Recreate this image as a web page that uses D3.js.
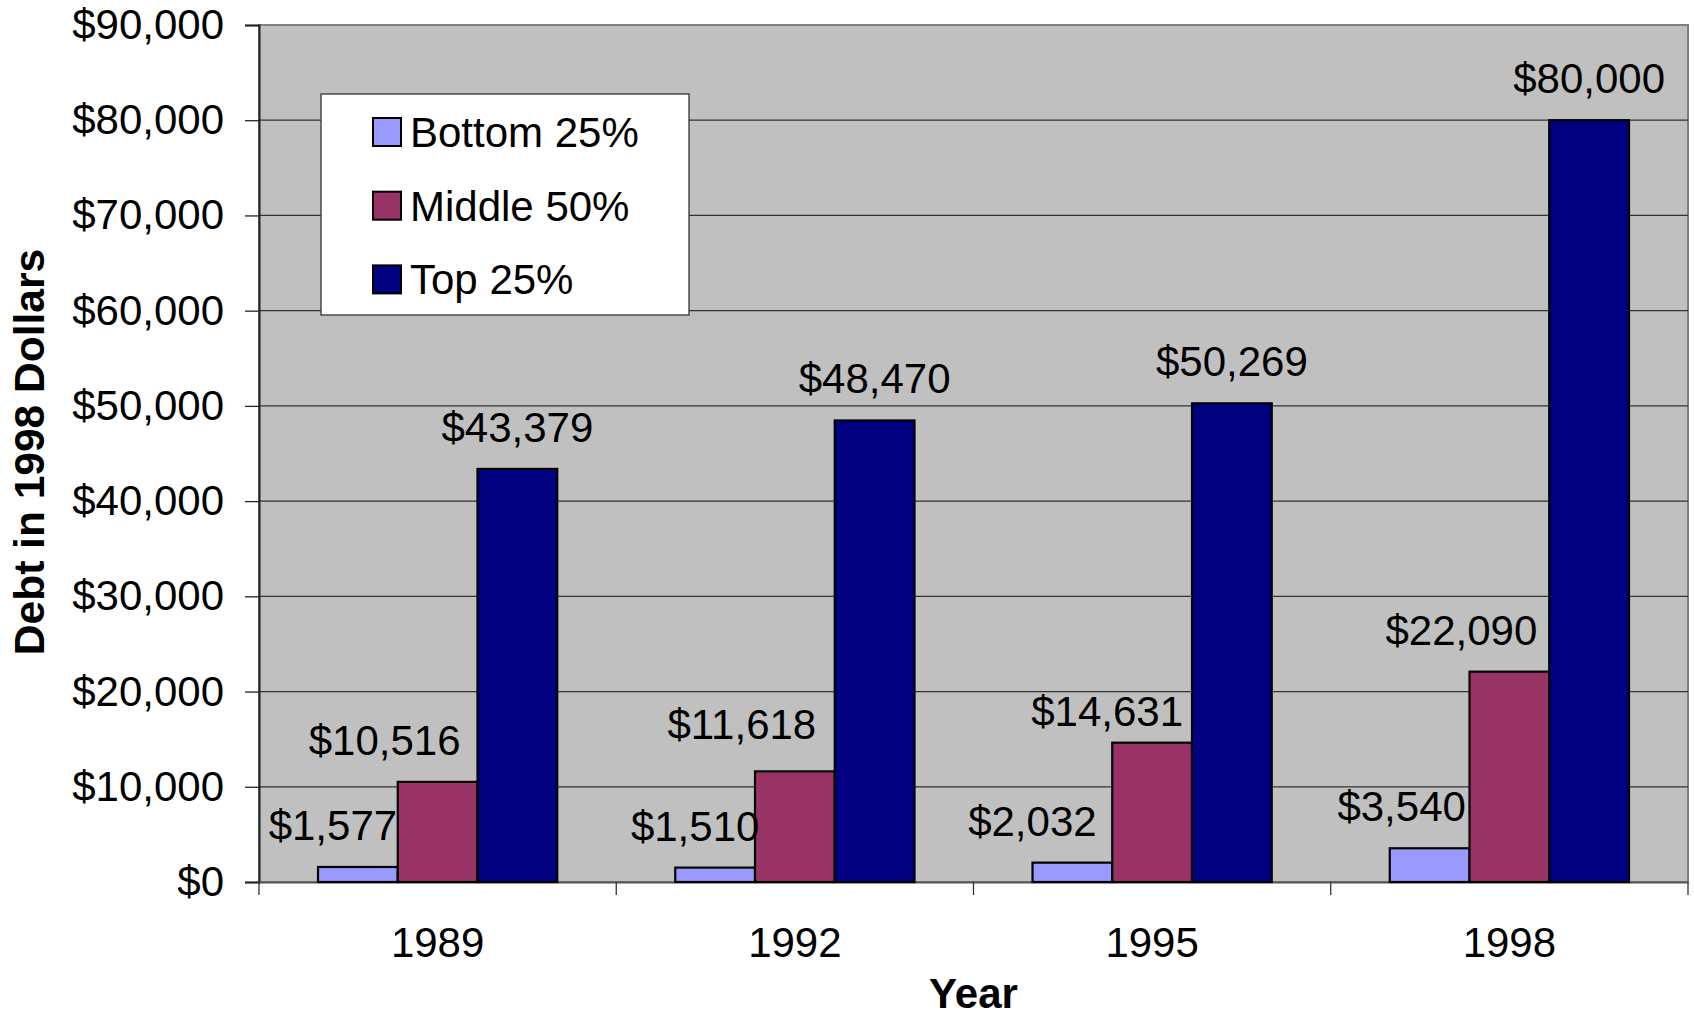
<!DOCTYPE html>
<html>
<head>
<meta charset="utf-8">
<script src="https://cdn.jsdelivr.net/npm/d3@7"></script>
<style>
  body { margin: 0; background: #fff; }
  text { font-family: Arial, "Liberation Sans", sans-serif; fill: #000; }
</style>
</head>
<body>
<svg id="chart" width="1694" height="1016"></svg>
<script>
'use strict'

// data
const years = ['1989', '1992', '1995', '1998']
const seriesNames = ['Bottom 25%', 'Middle 50%', 'Top 25%']
const bottom25 = [1577, 1510, 2032, 3540]
const middle50 = [10516, 11618, 14631, 22090]
const top25 = [43379, 48470, 50269, 80000]
const yTicks = [0, 10000, 20000, 30000, 40000, 50000, 60000, 70000, 80000, 90000]

// look of the chart
const colors = ['#9999FF', '#993366', '#000080']
// excel moved some labels by hand
const labelNudgeX = [[-25, -20, -40, -28], [-53, -53, -45, -48], [0, 0, 0, 0]]
const labelNudgeY = [[0, 0, 0, 0], [0, -5, 10, 0], [0, 0, 0, 0]]

const plot = {left: 259, right: 1688, top: 25, bottom: 882}
const svg = d3.select('#chart')
const series = [bottom25, middle50, top25]

const x0 = d3.scaleBand().domain(years).range([plot.left, plot.right])
const x1 = d3.scaleBand().domain(d3.range(seriesNames.length))
  .range([0, x0.bandwidth()]).paddingInner(0).paddingOuter(0.74)
const y = d3.scaleLinear().domain([0, 90000]).range([plot.bottom, plot.top])
const money = v => '$' + d3.format(',')(v)

// plot background
svg.append('rect')
  .attr('x', plot.left).attr('y', plot.top)
  .attr('width', plot.right - plot.left).attr('height', plot.bottom - plot.top)
  .attr('fill', '#C0C0C0').attr('stroke', '#808080').attr('stroke-width', 2)

// gridlines
svg.append('g').selectAll('line')
  .data(yTicks.filter(t => t > 0 && t < 90000))
  .enter().append('line')
  .attr('x1', plot.left).attr('x2', plot.right)
  .attr('y1', d => y(d)).attr('y2', d => y(d))
  .attr('stroke', '#333').attr('stroke-width', 1.3)

// y axis
const yAxis = svg.append('g')
  .attr('transform', 'translate(' + plot.left + ',0)')
  .call(d3.axisLeft(y).tickValues(yTicks).tickFormat(money).tickSize(14).tickPadding(21))
yAxis.select('.domain').attr('stroke', '#222').attr('stroke-width', 2)
yAxis.selectAll('.tick line').attr('stroke', '#222').attr('stroke-width', 1.3)
yAxis.selectAll('.tick text').attr('font-size', 42).attr('font-family', 'Arial, "Liberation Sans", sans-serif')

// x axis
const xAxis = svg.append('g')
  .attr('transform', 'translate(0,' + plot.bottom + ')')
  .call(d3.axisBottom(x0).tickSize(0).tickPadding(0))
xAxis.select('.domain').attr('stroke', '#555').attr('stroke-width', 2)
xAxis.selectAll('.tick text').attr('font-size', 42).attr('dy', null).attr('y', 75)
  .attr('font-family', 'Arial, "Liberation Sans", sans-serif')
xAxis.selectAll('.sep')
  .data(years.map(d => x0(d)).concat([plot.right]))
  .enter().append('line')
  .attr('x1', d => d).attr('x2', d => d).attr('y1', 0).attr('y2', 13)
  .attr('stroke', '#333').attr('stroke-width', 1.3)

// bars
const groups = svg.append('g').selectAll('g')
  .data(years)
  .enter().append('g')
  .attr('transform', d => 'translate(' + x0(d) + ',0)')

groups.selectAll('rect')
  .data((d, i) => series.map((s, k) => ({k: k, v: s[i]})))
  .enter().append('rect')
  .attr('x', d => x1(d.k))
  .attr('y', d => y(d.v))
  .attr('width', x1.bandwidth())
  .attr('height', d => y(0) - y(d.v))
  .attr('fill', d => colors[d.k])
  .attr('stroke', '#000').attr('stroke-width', 2.2)

// value labels
groups.selectAll('text.val')
  .data((d, i) => series.map((s, k) => ({k: k, i: i, v: s[i]})))
  .enter().append('text')
  .classed('val', true)
  .attr('x', d => x1(d.k) + x1.bandwidth() / 2 + labelNudgeX[d.k][d.i])
  .attr('y', d => y(d.v) - 27 + labelNudgeY[d.k][d.i])
  .attr('text-anchor', 'middle')
  .attr('font-size', 42)
  .text(d => money(d.v))

// legend
const legend = svg.append('g')
legend.append('rect')
  .attr('x', 321).attr('y', 94).attr('width', 368).attr('height', 221)
  .attr('fill', '#fff').attr('stroke', '#333').attr('stroke-width', 1.3)
const item = legend.selectAll('.item')
  .data(seriesNames)
  .enter().append('g')
  .attr('transform', (d, i) => 'translate(373,' + (132 + i * 73.7) + ')')
item.append('rect')
  .attr('x', 0).attr('y', -14).attr('width', 28).attr('height', 28)
  .attr('fill', (d, i) => colors[i]).attr('stroke', '#000').attr('stroke-width', 2)
item.append('text')
  .attr('x', 37).attr('y', 15)
  .attr('font-size', 42)
  .text(d => d)

// axis titles
svg.append('text')
  .attr('transform', 'translate(44,452) rotate(-90)')
  .attr('text-anchor', 'middle')
  .attr('font-size', 42.5).attr('font-weight', 'bold')
  .text('Debt in 1998 Dollars')
svg.append('text')
  .attr('x', (plot.left + plot.right) / 2).attr('y', 1008)
  .attr('text-anchor', 'middle')
  .attr('font-size', 42).attr('font-weight', 'bold')
  .text('Year')
</script>
</body>
</html>
